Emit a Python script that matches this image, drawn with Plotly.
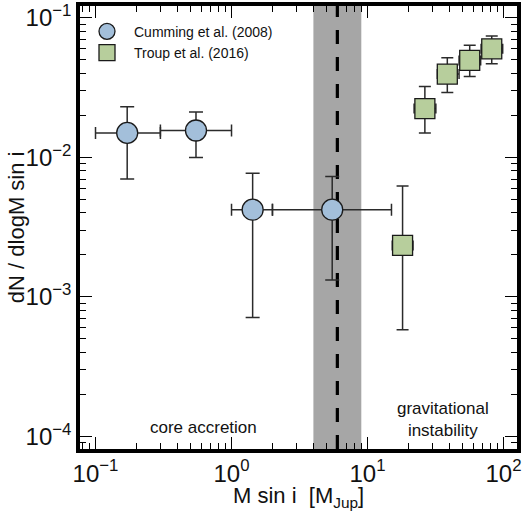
import plotly.graph_objects as go

# ---- data ----
cum_x = [0.171, 0.548, 1.43, 5.5]
cum_x_lo = [0.10, 0.30, 1.0, 2.0]
cum_x_hi = [0.30, 1.0, 2.0, 15.0]
cum_y = [0.0150, 0.0156, 0.00422, 0.00422]
cum_y_lo = [0.0070, 0.0100, 0.00071, 0.00132]
cum_y_hi = [0.0231, 0.0212, 0.0077, 0.0073]

tr_x = [18.1, 26.4, 38.6, 56.4, 81.9]
tr_x_lo = [15.2, 22.0, 32.6, 47.1, 68.4]
tr_x_hi = [21.6, 31.8, 47.1, 67.9, 98.6]
tr_y = [0.00234, 0.0224, 0.0396, 0.0496, 0.0601]
tr_y_lo = [0.00058, 0.0150, 0.0292, 0.0381, 0.0469]
tr_y_hi = [0.00623, 0.0323, 0.0518, 0.0637, 0.0743]

band_lo, band_hi = 4.0, 9.0
peak_mass = 6.0

labels = ["Cumming et al. (2008)", "Troup et al. (2016)"]
region_labels = ["core accretion", "gravitational<br>instability"]
x_title = "M sin i \u00a0[M<sub>Jup</sub>]"
y_title = "dN / dlogM sin i"

x_exponents = [-1, 0, 1, 2]
y_exponents = [-4, -3, -2, -1]

FONT = "Liberation Sans, Arial, Helvetica, sans-serif"
ERR_COL = "#2b2b2b"
TICK_SIZE = 18


def minus(v, lo):
    return [a - b for a, b in zip(v, lo)]


def plus(v, hi):
    return [b - a for a, b in zip(v, hi)]


def sup(p):
    return "10<sup>" + (str(p).replace("-", "\u2212")) + "</sup>"


def minor_vals(exps):
    vals = []
    for p in range(exps[0] - 1, exps[-1] + 1):
        vals += [m * 10.0 ** p for m in range(2, 10)]
    return vals


fig = go.Figure()

fig.add_trace(go.Scatter(
    x=cum_x, y=cum_y, mode="markers", name=labels[0],
    marker=dict(symbol="circle", size=21, color="#a3bfda",
                line=dict(color="#1a1a1a", width=1.3)),
    error_x=dict(type="data", symmetric=False, array=plus(cum_x, cum_x_hi),
                 arrayminus=minus(cum_x, cum_x_lo), color=ERR_COL,
                 thickness=1.5, width=6),
    error_y=dict(type="data", symmetric=False, array=plus(cum_y, cum_y_hi),
                 arrayminus=minus(cum_y, cum_y_lo), color=ERR_COL,
                 thickness=1.5, width=7),
))

fig.add_trace(go.Scatter(
    x=tr_x, y=tr_y, mode="markers", name=labels[1],
    marker=dict(symbol="square", size=20, color="#b7ce9c",
                line=dict(color="#1a1a1a", width=1.3)),
    error_x=dict(type="data", symmetric=False, array=plus(tr_x, tr_x_hi),
                 arrayminus=minus(tr_x, tr_x_lo), color=ERR_COL,
                 thickness=1.5, width=5),
    error_y=dict(type="data", symmetric=False, array=plus(tr_y, tr_y_hi),
                 arrayminus=minus(tr_y, tr_y_lo), color=ERR_COL,
                 thickness=1.5, width=6),
))

fig.add_vrect(x0=band_lo, x1=band_hi, fillcolor="#a6a6a6", opacity=1,
              line_width=0, layer="below")
fig.add_shape(type="line", xref="x", yref="paper", x0=peak_mass, x1=peak_mass,
              y0=0, y1=1, line=dict(color="black", width=3.2, dash="14px,13px"),
              layer="below")

fig.add_annotation(text=region_labels[0], xref="paper", yref="paper",
                   x=0.282, y=0.048, xanchor="center", yanchor="middle",
                   showarrow=False,
                   font=dict(family=FONT, size=17, color="#111"))
fig.add_annotation(text=region_labels[1], xref="paper", yref="paper",
                   x=0.831, y=0.0665, xanchor="center", yanchor="middle",
                   showarrow=False,
                   font=dict(family=FONT, size=17, color="#111"))
fig.add_annotation(text=y_title, xref="paper", yref="paper",
                   x=-0.145, y=0.5, xanchor="center", yanchor="middle",
                   textangle=-90, showarrow=False,
                   font=dict(family=FONT, size=22, color="#111"))
fig.add_annotation(text=x_title, xref="paper", yref="paper",
                   x=0.5, y=-0.108, xanchor="center", yanchor="middle",
                   showarrow=False,
                   font=dict(family=FONT, size=22, color="#111"))

# plotly shrinks log-axis array tick labels by 0.75; compensate
axis_common = dict(
    type="log", showline=True, linecolor="black", linewidth=3.5,
    mirror="allticks", ticks="inside", ticklen=12, tickwidth=1.3,
    tickcolor="black", showgrid=False, zeroline=False,
    tickmode="array", automargin=False,
    tickfont=dict(family=FONT, size=TICK_SIZE / 0.75, color="#111"),
)
minor_common = dict(ticks="inside", ticklen=6, tickwidth=1, tickcolor="black",
                    showgrid=False, tickmode="array")

fig.update_xaxes(**axis_common, range=[-1.114, 2.099],
                 tickvals=[10.0 ** p for p in x_exponents],
                 ticktext=[sup(p) for p in x_exponents],
                 minor=dict(**minor_common, tickvals=minor_vals(x_exponents)))
fig.update_yaxes(**axis_common, range=[-4.091, -0.914],
                 tickvals=[10.0 ** p for p in y_exponents],
                 ticktext=[sup(p) for p in y_exponents],
                 minor=dict(**minor_common, tickvals=minor_vals(y_exponents)))

fig.update_layout(
    width=523, height=511,
    margin=dict(l=80, r=6, t=6, b=62),
    paper_bgcolor="white", plot_bgcolor="white",
    font=dict(family=FONT, color="#111"),
    showlegend=True,
    legend=dict(x=0.0, y=0.978, xanchor="left", yanchor="top",
                bgcolor="rgba(0,0,0,0)", itemwidth=44,
                font=dict(family=FONT, size=14, color="#111"),
                tracegroupgap=0),
)

fig.write_html("out.html")
